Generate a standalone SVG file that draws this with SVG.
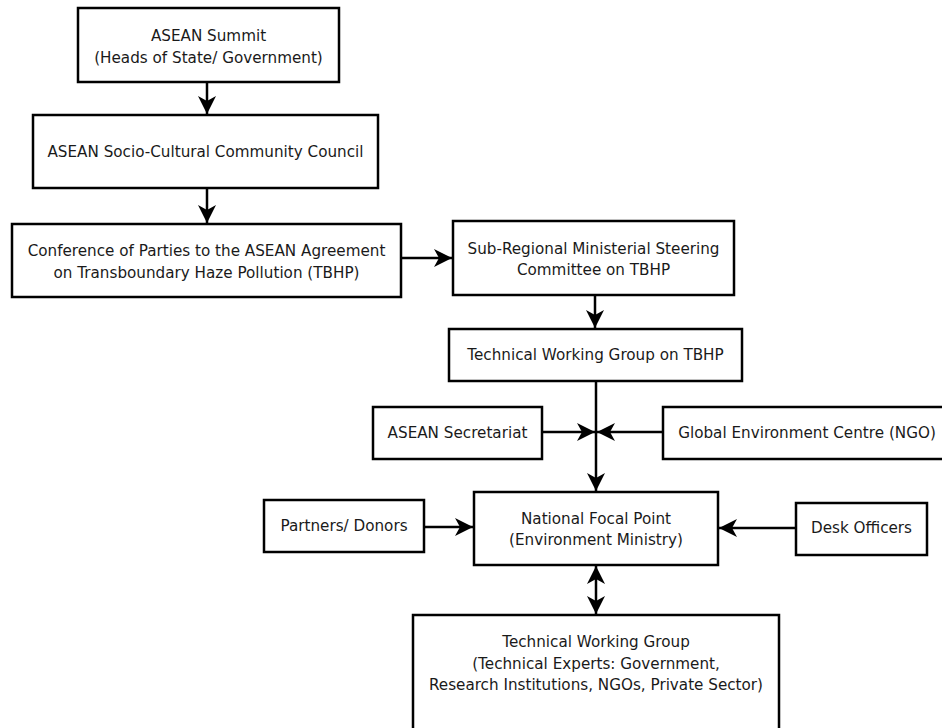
<svg xmlns="http://www.w3.org/2000/svg" width="942" height="728" viewBox="0 0 942 728">
<style>
.box{fill:#fff;stroke:#000;stroke-width:2.5}
.t{font-family:"DejaVu Sans",Verdana,sans-serif;font-size:15.2px;fill:#1a1a1a;text-anchor:middle}
.c{fill:none;stroke:#000;stroke-width:2.5}
</style>
<defs>
<marker id="ah" markerUnits="userSpaceOnUse" markerWidth="19" markerHeight="19" refX="18" refY="9" orient="auto-start-reverse" viewBox="0 0 19 19">
<path d="M0,0 L18,9 L0,18 L5,9 z" fill="#000"/>
</marker>
</defs>
<rect width="942" height="728" fill="#fff"/>
<g id="connectors">
<line class="c" x1="207" y1="82" x2="207" y2="114" marker-end="url(#ah)"/>
<line class="c" x1="207" y1="188" x2="207" y2="223" marker-end="url(#ah)"/>
<line class="c" x1="401" y1="258" x2="452" y2="258" marker-end="url(#ah)"/>
<line class="c" x1="595" y1="295" x2="595" y2="328" marker-end="url(#ah)"/>
<line class="c" x1="596" y1="381" x2="596" y2="491" marker-end="url(#ah)"/>
<line class="c" x1="542" y1="432" x2="595" y2="432" marker-end="url(#ah)"/>
<line class="c" x1="663" y1="432" x2="597" y2="432" marker-end="url(#ah)"/>
<line class="c" x1="424" y1="527" x2="473" y2="527" marker-end="url(#ah)"/>
<line class="c" x1="796" y1="528" x2="719" y2="528" marker-end="url(#ah)"/>
<line class="c" x1="596" y1="566" x2="596" y2="614" marker-start="url(#ah)" marker-end="url(#ah)"/>
</g>
<g id="summit"><rect class="box" x="78" y="8" width="261" height="74"/>
<text class="t" x="208.5" y="41">ASEAN Summit</text>
<text class="t" x="208.5" y="63">(Heads of State/ Government)</text></g>
<g id="ascc"><rect class="box" x="33" y="115" width="345" height="73"/>
<text class="t" x="205.5" y="157">ASEAN Socio-Cultural Community Council</text></g>
<g id="cop"><rect class="box" x="12" y="224" width="389" height="73"/>
<text class="t" x="206.5" y="256">Conference of Parties to the ASEAN Agreement</text>
<text class="t" x="206.5" y="278">on Transboundary Haze Pollution (TBHP)</text></g>
<g id="msc"><rect class="box" x="453" y="221" width="281" height="74"/>
<text class="t" x="593.5" y="254">Sub-Regional Ministerial Steering</text>
<text class="t" x="593.5" y="275">Committee on TBHP</text></g>
<g id="twg-tbhp"><rect class="box" x="449" y="329" width="293" height="52"/>
<text class="t" x="595.5" y="360">Technical Working Group on TBHP</text></g>
<g id="secretariat"><rect class="box" x="373" y="407" width="169" height="52"/>
<text class="t" x="457.5" y="438">ASEAN Secretariat</text></g>
<g id="gec"><rect class="box" x="663" y="407" width="284" height="52"/>
<text class="t" x="807" y="438">Global Environment Centre (NGO)</text></g>
<g id="nfp"><rect class="box" x="474" y="492" width="244" height="73"/>
<text class="t" x="596" y="524">National Focal Point</text>
<text class="t" x="596" y="545">(Environment Ministry)</text></g>
<g id="partners"><rect class="box" x="264" y="500" width="160" height="52"/>
<text class="t" x="344" y="531">Partners/ Donors</text></g>
<g id="desk"><rect class="box" x="796" y="503" width="131" height="52"/>
<text class="t" x="861.5" y="533">Desk Officers</text></g>
<g id="twg"><rect class="box" x="413" y="615" width="366" height="130"/>
<text class="t" x="596" y="647">Technical Working Group</text>
<text class="t" x="596" y="669">(Technical Experts: Government,</text>
<text class="t" x="596" y="690">Research Institutions, NGOs, Private Sector)</text></g>
</svg>
